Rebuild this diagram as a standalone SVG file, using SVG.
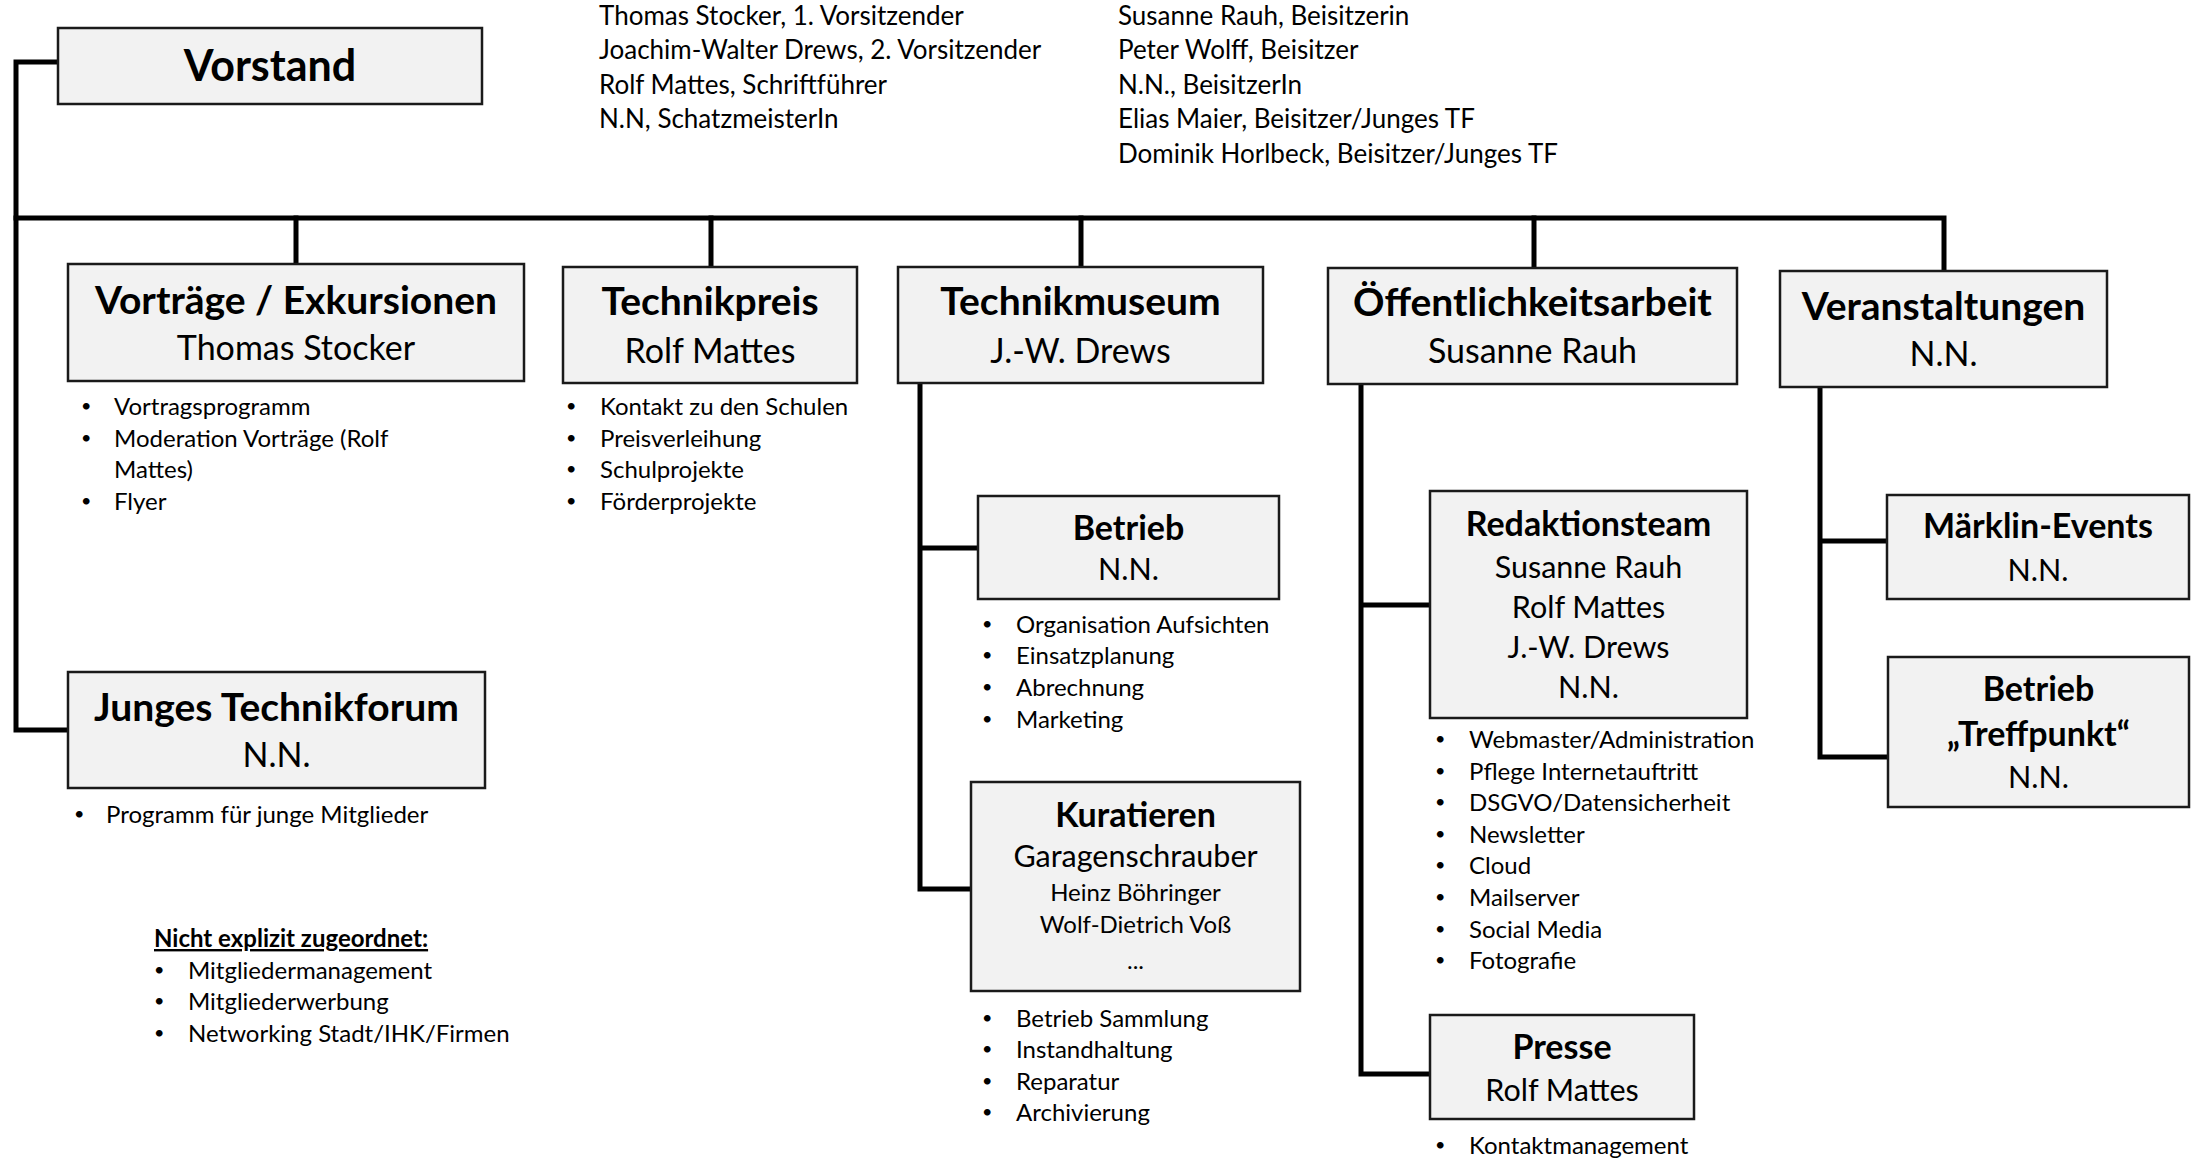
<svg xmlns="http://www.w3.org/2000/svg" width="2191" height="1161" viewBox="0 0 2191 1161">
<style>
text{font-family:Lato,"Liberation Sans",sans-serif;fill:#000}
.box{fill:#f2f2f2;stroke:#1a1a1a;stroke-width:2.5}
.c{stroke:#000;stroke-width:5;fill:none;stroke-linecap:square}
.t0{font-size:43px;font-weight:bold;text-anchor:middle}
.t1{font-size:39px;font-weight:bold;text-anchor:middle}
.n1{font-size:34px;text-anchor:middle}
.t2{font-size:34px;font-weight:bold;text-anchor:middle}
.n2{font-size:30.5px;text-anchor:middle}
.n3{font-size:24px;text-anchor:middle}
.b{font-size:24px}
.d{font-size:18px}
.top{font-size:26px}
.h{font-size:24px;font-weight:bold;text-decoration:underline}
</style>
<rect width="2191" height="1161" fill="#fff"/>
<g id="connectors">
<path class="c" d="M58 62H16V730H68"/>
<path class="c" d="M16 218H1944V271"/>
<path class="c" d="M296 218V264M711 218V267M1081 218V267M1534 218V268"/>
<path class="c" d="M920 383V889H971M920 548H978"/>
<path class="c" d="M1361 386V1074H1430M1361 605H1430"/>
<path class="c" d="M1820 387V757H1888M1820 541H1887"/>
</g>
<g id="vorstand">
<rect class="box" x="58" y="28" width="424" height="76"/>
<text class="t0" x="270" y="81">Vorstand</text>
</g>
<g id="vorstand-liste" class="top">
<text x="599" y="25">Thomas Stocker, 1. Vorsitzender</text>
<text x="599" y="59">Joachim-Walter Drews, 2. Vorsitzender</text>
<text x="599" y="94">Rolf Mattes, Schriftführer</text>
<text x="599" y="128">N.N, SchatzmeisterIn</text>
<text x="1118" y="25">Susanne Rauh, Beisitzerin</text>
<text x="1118" y="59">Peter Wolff, Beisitzer</text>
<text x="1118" y="94">N.N., BeisitzerIn</text>
<text x="1118" y="128">Elias Maier, Beisitzer/Junges TF</text>
<text x="1118" y="163">Dominik Horlbeck, Beisitzer/Junges TF</text>
</g>
<g id="vortraege">
<rect class="box" x="68" y="264" width="456" height="117"/>
<text class="t1" x="296" y="314">Vorträge / Exkursionen</text>
<text class="n1" x="296" y="360">Thomas Stocker</text>
<g class="b">
<text class="d" x="81" y="412">•</text><text x="114" y="415">Vortragsprogramm</text>
<text class="d" x="81" y="444">•</text><text x="114" y="447">Moderation Vorträge (Rolf</text>
<text x="114" y="478">Mattes)</text>
<text class="d" x="81" y="507">•</text><text x="114" y="510">Flyer</text>
</g>
</g>
<g id="technikpreis">
<rect class="box" x="563" y="267" width="294" height="116"/>
<text class="t1" x="710" y="315">Technikpreis</text>
<text class="n1" x="710" y="363">Rolf Mattes</text>
<g class="b">
<text class="d" x="566" y="412">•</text><text x="600" y="415">Kontakt zu den Schulen</text>
<text class="d" x="566" y="444">•</text><text x="600" y="447">Preisverleihung</text>
<text class="d" x="566" y="475">•</text><text x="600" y="478">Schulprojekte</text>
<text class="d" x="566" y="507">•</text><text x="600" y="510">Förderprojekte</text>
</g>
</g>
<g id="technikmuseum">
<rect class="box" x="898" y="267" width="365" height="116"/>
<text class="t1" x="1080.5" y="315">Technikmuseum</text>
<text class="n1" x="1080.5" y="363">J.-W. Drews</text>
</g>
<g id="oeffentlichkeitsarbeit">
<rect class="box" x="1328" y="268" width="409" height="116"/>
<text class="t1" x="1532.5" y="316">Öffentlichkeitsarbeit</text>
<text class="n1" x="1532.5" y="363">Susanne Rauh</text>
</g>
<g id="veranstaltungen">
<rect class="box" x="1780" y="271" width="327" height="116"/>
<text class="t1" x="1943.5" y="320">Veranstaltungen</text>
<text class="n1" x="1943.5" y="366">N.N.</text>
</g>
<g id="junges-technikforum">
<rect class="box" x="68" y="672" width="417" height="116"/>
<text class="t1" x="276.5" y="721">Junges Technikforum</text>
<text class="n1" x="276.5" y="767">N.N.</text>
<g class="b">
<text class="d" x="74" y="820">•</text><text x="106" y="823">Programm für junge Mitglieder</text>
</g>
</g>
<g id="nicht-zugeordnet">
<text class="h" x="154" y="947">Nicht explizit zugeordnet:</text>
<g class="b">
<text class="d" x="154" y="976">•</text><text x="188" y="979">Mitgliedermanagement</text>
<text class="d" x="154" y="1007">•</text><text x="188" y="1010">Mitgliederwerbung</text>
<text class="d" x="154" y="1039">•</text><text x="188" y="1042">Networking Stadt/IHK/Firmen</text>
</g>
</g>
<g id="betrieb-museum">
<rect class="box" x="978" y="496" width="301" height="103"/>
<text class="t2" x="1128.5" y="540">Betrieb</text>
<text class="n2" x="1128.5" y="580">N.N.</text>
<g class="b">
<text class="d" x="982" y="630">•</text><text x="1016" y="633">Organisation Aufsichten</text>
<text class="d" x="982" y="661">•</text><text x="1016" y="664">Einsatzplanung</text>
<text class="d" x="982" y="693">•</text><text x="1016" y="696">Abrechnung</text>
<text class="d" x="982" y="725">•</text><text x="1016" y="728">Marketing</text>
</g>
</g>
<g id="kuratieren">
<rect class="box" x="971" y="782" width="329" height="209"/>
<text class="t2" x="1135.5" y="827">Kuratieren</text>
<text class="n2" x="1135.5" y="867">Garagenschrauber</text>
<text class="n3" x="1135.5" y="901">Heinz Böhringer</text>
<text class="n3" x="1135.5" y="933">Wolf-Dietrich Voß</text>
<text class="n3" x="1135.5" y="969">...</text>
<g class="b">
<text class="d" x="982" y="1024">•</text><text x="1016" y="1027">Betrieb Sammlung</text>
<text class="d" x="982" y="1055">•</text><text x="1016" y="1058">Instandhaltung</text>
<text class="d" x="982" y="1087">•</text><text x="1016" y="1090">Reparatur</text>
<text class="d" x="982" y="1118">•</text><text x="1016" y="1121">Archivierung</text>
</g>
</g>
<g id="redaktionsteam">
<rect class="box" x="1430" y="491" width="317" height="227"/>
<text class="t2" x="1588.5" y="536">Redaktionsteam</text>
<text class="n2" x="1588.5" y="578">Susanne Rauh</text>
<text class="n2" x="1588.5" y="618">Rolf Mattes</text>
<text class="n2" x="1588.5" y="658">J.-W. Drews</text>
<text class="n2" x="1588.5" y="698">N.N.</text>
<g class="b">
<text class="d" x="1435" y="745">•</text><text x="1469" y="748">Webmaster/Administration</text>
<text class="d" x="1435" y="777">•</text><text x="1469" y="780">Pflege Internetauftritt</text>
<text class="d" x="1435" y="808">•</text><text x="1469" y="811">DSGVO/Datensicherheit</text>
<text class="d" x="1435" y="840">•</text><text x="1469" y="843">Newsletter</text>
<text class="d" x="1435" y="871">•</text><text x="1469" y="874">Cloud</text>
<text class="d" x="1435" y="903">•</text><text x="1469" y="906">Mailserver</text>
<text class="d" x="1435" y="935">•</text><text x="1469" y="938">Social Media</text>
<text class="d" x="1435" y="966">•</text><text x="1469" y="969">Fotografie</text>
</g>
</g>
<g id="presse">
<rect class="box" x="1430" y="1015" width="264" height="104"/>
<text class="t2" x="1562" y="1059">Presse</text>
<text class="n2" x="1562" y="1101">Rolf Mattes</text>
<g class="b">
<text class="d" x="1435" y="1151">•</text><text x="1469" y="1154">Kontaktmanagement</text>
</g>
</g>
<g id="maerklin-events">
<rect class="box" x="1887" y="495" width="302" height="104"/>
<text class="t2" x="2038" y="538">Märklin-Events</text>
<text class="n2" x="2038" y="581">N.N.</text>
</g>
<g id="betrieb-treffpunkt">
<rect class="box" x="1888" y="657" width="301" height="150"/>
<text class="t2" x="2038.5" y="701">Betrieb</text>
<text class="t2" x="2038.5" y="746">„Treffpunkt“</text>
<text class="n2" x="2038.5" y="788">N.N.</text>
</g>
</svg>
